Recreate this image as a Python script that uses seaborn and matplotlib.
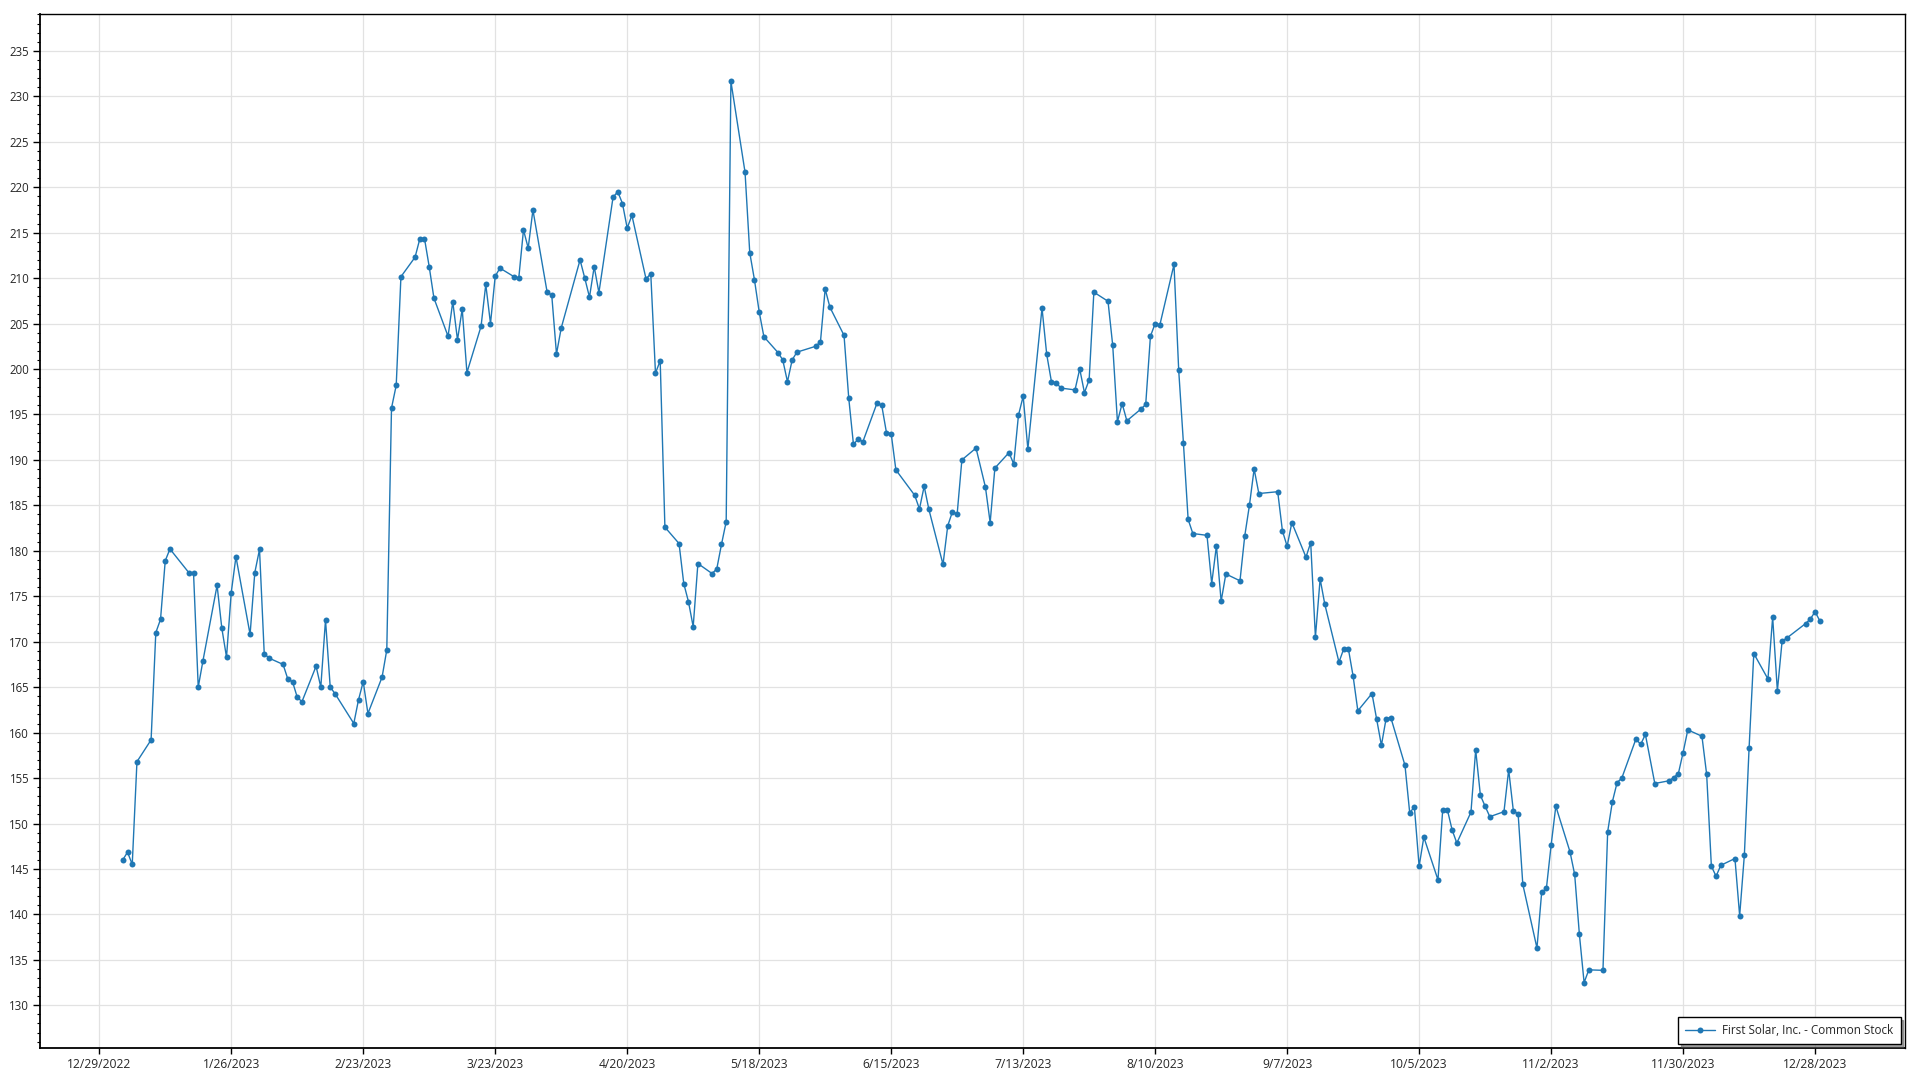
import pandas as pd
import matplotlib.pyplot as plt
from matplotlib.ticker import MultipleLocator
import seaborn as sns

# closing prices 2023, one list per month
jan = [146.0, 146.85, 145.5, 156.8, 159.2, 171.0, 172.45, 178.9, 180.2, 177.6,
       177.6, 165.0, 167.9, 176.2, 171.5, 168.3, 175.4, 179.35, 170.8, 177.6]
feb = [180.15, 168.7, 168.2, 167.5, 165.9, 165.6, 163.9, 163.4, 167.3, 165.0,
       172.4, 165.0, 164.3, 161.0, 163.6, 165.6, 162.1, 166.1, 169.1]
mar = [195.7, 198.2, 210.15, 212.3, 214.3, 214.35, 211.25, 207.8, 203.6, 207.4,
       203.2, 206.6, 199.6, 204.7, 209.3, 205.0, 210.2, 211.1, 210.15, 210.0,
       215.3, 213.3, 217.5]
apr = [208.5, 208.1, 201.65, 204.5, 212.0, 210.0, 207.9, 211.25, 208.4, 218.9,
       219.5, 218.2, 215.5, 216.9, 209.9, 210.5, 199.55, 200.9, 182.6]
may = [180.8, 176.4, 174.4, 171.65, 178.6, 177.5, 178.0, 180.7, 183.2, 231.65,
       221.65, 212.8, 209.8, 206.3, 203.55, 201.8, 201.0, 198.6, 201.0, 201.85,
       202.5, 203.0]
jun = [208.8, 206.8, 203.7, 196.8, 191.7, 192.3, 192.0, 196.25, 196.0, 193.0,
       192.9, 188.9, 186.1, 184.6, 187.1, 184.55, 178.5, 182.75, 184.3, 184.05,
       190.0]
jul = [191.3, 187.0, 183.1, 189.1, 190.8, 189.55, 194.9, 197.0, 191.2, 206.7,
       201.6, 198.6, 198.5, 197.9, 197.7, 200.0, 197.4, 198.8, 208.45, 207.45]
aug = [202.6, 194.2, 196.2, 194.3, 195.6, 196.1, 203.6, 205.0, 204.85, 211.5,
       199.85, 191.85, 183.45, 181.9, 181.7, 176.4, 180.55, 174.45, 177.45, 176.7,
       181.6, 185.0, 189.0]
sep = [186.3, 186.5, 182.2, 180.5, 183.1, 179.3, 180.9, 170.5, 176.9, 174.1,
       167.75, 169.2, 169.2, 166.2, 162.4, 164.3, 161.45, 158.6, 161.55, 161.65]
oct_ = [156.4, 151.2, 151.8, 145.3, 148.5, 143.8, 151.5, 151.5, 149.3, 147.85,
        151.25, 158.1, 153.1, 151.9, 150.75, 151.3, 155.9, 151.35, 151.1, 143.3,
        136.3, 142.45]
nov = [142.85, 147.6, 151.9, 146.9, 144.4, 137.8, 132.5, 133.9, 133.85, 149.1,
       152.4, 154.5, 155.0, 159.3, 158.7, 159.8, 154.4, 154.7, 155.05, 155.5,
       157.8]
dec = [160.3, 159.6, 155.4, 145.3, 144.2, 145.4, 146.15, 139.85, 146.55, 158.3,
       168.7, 165.9, 172.7, 164.6, 170.05, 170.4, 172.0, 172.5, 173.3, 172.3]

# market holidays (no trading)
holidays = ['2023-01-16', '2023-02-20', '2023-04-07', '2023-05-29', '2023-06-19',
            '2023-07-04', '2023-09-04', '2023-11-23', '2023-12-25']

tick_labels = ['12/29/2022', '1/26/2023', '2/23/2023', '3/23/2023', '4/20/2023',
               '5/18/2023', '6/15/2023', '7/13/2023', '8/10/2023', '9/7/2023',
               '10/5/2023', '11/2/2023', '11/30/2023', '12/28/2023']

closes = jan + feb + mar + apr + may + jun + jul + aug + sep + oct_ + nov + dec
days = pd.bdate_range('2023-01-03', '2023-12-29', freq='C', holidays=holidays)
df = pd.DataFrame({'Date': days, 'Close': closes})

sns.set_theme(style="white")
plt.rcParams['font.family'] = ['Open Sans', 'DejaVu Sans']

fig = plt.figure(figsize=(19.2, 10.8), dpi=100)
ax = fig.add_axes([0.021, 0.0296, 0.971, 0.957])

sns.lineplot(data=df, x='Date', y='Close', ax=ax, color='#1f77b4',
             linewidth=1, marker='o', markersize=4.3, markeredgewidth=0,
             label='First Solar, Inc. - Common Stock')

ax.set_xlim(pd.Timestamp('2022-12-16 12:00'), pd.Timestamp('2024-01-16'))
ax.set_ylim(125.3, 239)

ax.yaxis.set_major_locator(MultipleLocator(5))
ax.yaxis.set_minor_locator(MultipleLocator(1))
ax.set_xticks(pd.to_datetime(tick_labels, format='%m/%d/%Y'))
ax.set_xticklabels(tick_labels)

ax.grid(True, which='major', color='#e2e2e2', linewidth=0.9)
ax.set_axisbelow(True)
ax.tick_params(axis='y', which='major', length=5, width=1, color='black',
               labelsize=8.3, pad=3, left=True)
ax.tick_params(axis='y', which='minor', length=2.5, width=0.8, color='black', left=True)
ax.tick_params(axis='x', which='major', length=4, width=1, color='black',
               labelsize=8.7, pad=3, bottom=True)
for s in ax.spines.values():
    s.set_color('black')
    s.set_linewidth(1)
ax.spines['left'].set_linewidth(1.3)
ax.spines['bottom'].set_linewidth(1.3)
ax.set_xlabel('')
ax.set_ylabel('')

leg = ax.legend(loc='lower right', frameon=True, fancybox=False, shadow=True,
                edgecolor='black', fontsize=8.4, borderaxespad=0.35,
                borderpad=0.6, handlelength=2.6, handletextpad=0.6)
leg.get_frame().set_linewidth(1)

fig.savefig('out.png', dpi=100)
